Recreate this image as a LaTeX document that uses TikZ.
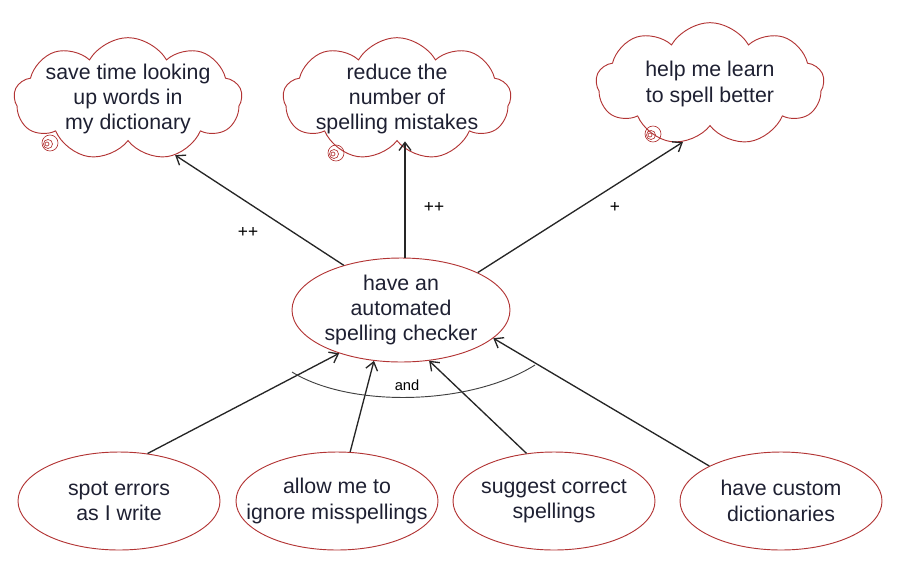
\documentclass[tikz,border=0pt]{standalone}
\usepackage{fontspec}
\setmainfont{Liberation Sans}
\usetikzlibrary{shapes.geometric,shapes.symbols,arrows.meta}
\definecolor{goalred}{RGB}{178,52,52}
\definecolor{inkblue}{RGB}{30,32,50}
\tikzset{>={Straight Barb[length=6pt,width=9pt,line width=1pt]},
  every node/.style={font=\fontsize{16}{19}\selectfont,text=inkblue,align=center},
  soft/.style={cloud,cloud puffs=9,cloud puff arc=120,cloud ignores aspect,draw=goalred,line width=0.7pt,
    inner xsep=-40pt,inner ysep=-20pt,minimum width=171pt,minimum height=92pt},
  hard/.style={ellipse,draw=goalred,line width=0.7pt,inner xsep=-40pt,inner ysep=-20pt,
    minimum width=151.5pt,minimum height=73.5pt},
  link/.style={->,draw=black!85,line width=1pt},
  contrib/.style={font=\fontsize{13}{15}\selectfont,text=black}}

\begin{document}
\begin{tikzpicture}[x=0.75pt,y=-0.75pt]
    \useasboundingbox (0,0) rectangle (902,561);

    \node[soft] (save) at (128,99) {save time looking\\up words in\\my dictionary};
    \node[soft] (reduce) at (397,99) {reduce the\\number of\\spelling mistakes};
    \node[soft] (learn) at (710,84) {help me learn\\to spell better};
    \foreach \x/\y in {50/143,336/153,653/134}{
        \draw[goalred,line width=0.5pt] (\x,\y) circle (8);
        \draw[goalred,line width=0.5pt] (\x-2,\y+1) circle (4.5);
        \draw[goalred,line width=0.5pt] (\x-3,\y+1) circle (2);
    }

    \node[hard,minimum width=163.5pt,minimum height=78pt] (checker) at (401,310) {have an\\automated\\spelling checker};

    \foreach \x/\k/\t in {119/spot/{spot errors\\as I write},337/ignore/{allow me to\\ignore misspellings},
                          554/suggest/{suggest correct\\spellings},781/custom/{have custom\\dictionaries}}{
        \node[hard] (\k) at (\x,501) {\t};
    }

    \draw[link] (checker.142) -- (save.310);
    \draw[link] ([xshift=3pt]checker.north) -- ([xshift=3pt]checker.north |- reduce.south);
    \draw[link] (checker.26) -- (learn.245);
    \node[contrib] (plus1) at (248,232) {++};
    \node[contrib] (plus2) at (434,207) {++};
    \node[contrib] (plus3) at (615,207) {+};

    \foreach \k/\a/\b in {spot/59/215,ignore/75/242,suggest/120/299,custom/154/343}{
        \path[link] (\k.\a) -- (checker.\b);
    }

    \coordinate (andL) at (292,372);
    \coordinate (andR) at (535,365);
    \draw[black!75,line width=0.7pt] (andL) .. controls (350,408) and (470,406) .. (andR);
    \node[font=\fontsize{11}{13}\selectfont,text=black] (and) at (407,385) {and};
\end{tikzpicture}
\end{document}
